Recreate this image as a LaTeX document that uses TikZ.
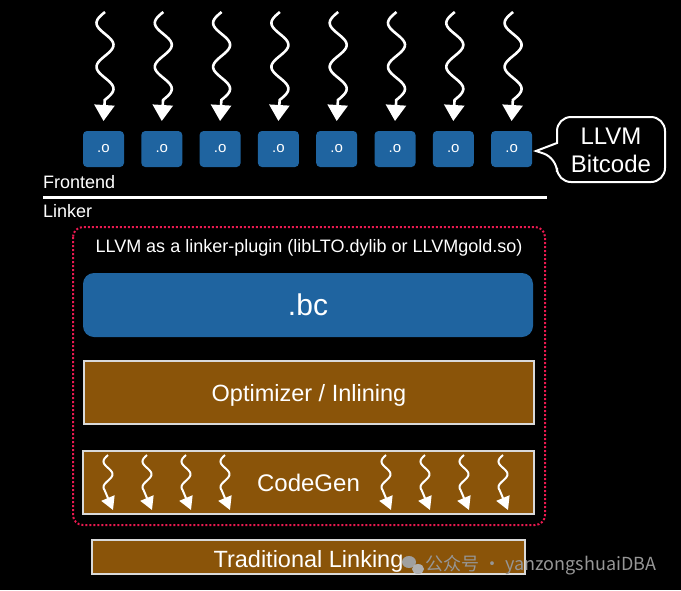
\documentclass[tikz,border=0pt]{standalone}
\usepackage{fontspec}
\setmainfont{Liberation Sans}
\newfontfamily\cjk{Noto Sans CJK SC}
\usetikzlibrary{arrows.meta}
\definecolor{objblue}{RGB}{31,100,160}
\definecolor{llbrown}{RGB}{138,84,9}
\definecolor{dotred}{RGB}{235,25,80}
\definecolor{wmgray}{RGB}{150,150,150}
\tikzset{
  obox/.style={fill=objblue, rounded corners=4pt, minimum width=41pt, minimum height=36pt, inner sep=0pt, text=white, font=\fontsize{15}{16}\selectfont},
  brownbox/.style={fill=llbrown, draw=white!85!black, line width=1.2pt, inner sep=0pt, text=white},
  squig/.style={white, line width=2.6pt, -{Triangle[width=20pt,length=16pt]}},
  smallsquig/.style={white, line width=2pt, -{Triangle[width=14pt,length=13pt]}},
  lbl/.style={text=white, font=\fontsize{18}{20}\selectfont, anchor=west, inner sep=0pt},
}
\begin{document}
\begin{tikzpicture}[x=1pt,y=-1pt]
\useasboundingbox[fill=black] (0,0) rectangle (681,590);
% object boxes and wavy arrows
\foreach \i in {0,...,7}{
  \pgfmathsetmacro{\cx}{103.5+58.3*\i}
  \node[obox] (o\i) at (\cx,149) {.o};
  \draw[squig] plot[domain=12:100, samples=50, variable=\t] ({\cx+1.5-8.5*sin((\t-12)*8.2)},{\t}) -- (\cx,121);
}
% bubble
\draw[white, line width=2pt, fill=black, rounded corners=14pt]
  (557,117) -- (665,117) -- (665,182) -- (557,182) -- (557,158) [sharp corners] -- (536,151) -- (557,143) [rounded corners=14pt] -- cycle;
\node[text=white, align=center, font=\fontsize{24}{28}\selectfont] (bub) at (611,150) {LLVM\\Bitcode};
% frontend / linker separator
\coordinate (sepL) at (43,197);
\coordinate (sepR) at (547,197);
\draw[white, line width=3pt] (sepL) -- (sepR);
\node[lbl] (fe) at (43,182) {Frontend};
\node[lbl] (lk) at (43,211) {Linker};
% plugin region
\draw[dotred, line width=2pt, dotted, rounded corners=10pt] (73,227) rectangle (545,525);
\node[text=white, font=\fontsize{18}{20}\selectfont, inner sep=0pt] (plug) at (309,248) {LLVM as a linker-plugin (libLTO.dylib or LLVMgold.so)};
\node[fill=objblue, rounded corners=11pt, minimum width=450pt, minimum height=64pt, inner sep=0pt, text=white, font=\fontsize{30}{34}\selectfont] (bc) at (308,305) {.bc};
\node[brownbox, minimum width=450pt, minimum height=63pt, font=\fontsize{23.5}{26}\selectfont] (opt) at (309,392.5) {};
\node[text=white, anchor=base, font=\fontsize{23.5}{26}\selectfont, inner sep=0pt] (optt) at (309,401) {Optimizer / Inlining};
\node[brownbox, minimum width=451pt, minimum height=63pt] (cg) at (308.5,482.5) {};
\node[text=white, anchor=base, font=\fontsize{24}{26}\selectfont, inner sep=0pt] (cgt) at (308.5,491) {CodeGen};
\foreach \x in {108,147,186,225,386,425,464,503}{
  \draw[smallsquig] plot[domain=455:490, samples=40, variable=\t] ({\x-4.5*sin((\t-455)*14)},{\t}) -- (\x+5,510);
}
\node[brownbox, minimum width=433pt, minimum height=34pt] (tl) at (308.5,557) {};
\node[text=white, anchor=base, font=\fontsize{23.5}{26}\selectfont, inner sep=0pt] (tlt) at (308.5,567) {Traditional Linking};
% watermark
\fill[wmgray!90!white] (409,562) ellipse (7pt and 6pt);
\fill[wmgray!75!white] (418,569) ellipse (6pt and 5pt);
\node[text=wmgray, anchor=west, inner sep=0pt, font=\cjk\fontsize{18}{20}\selectfont] (wm) at (425,565) {公众号 · yanzongshuaiDBA};
\end{tikzpicture}
\end{document}
